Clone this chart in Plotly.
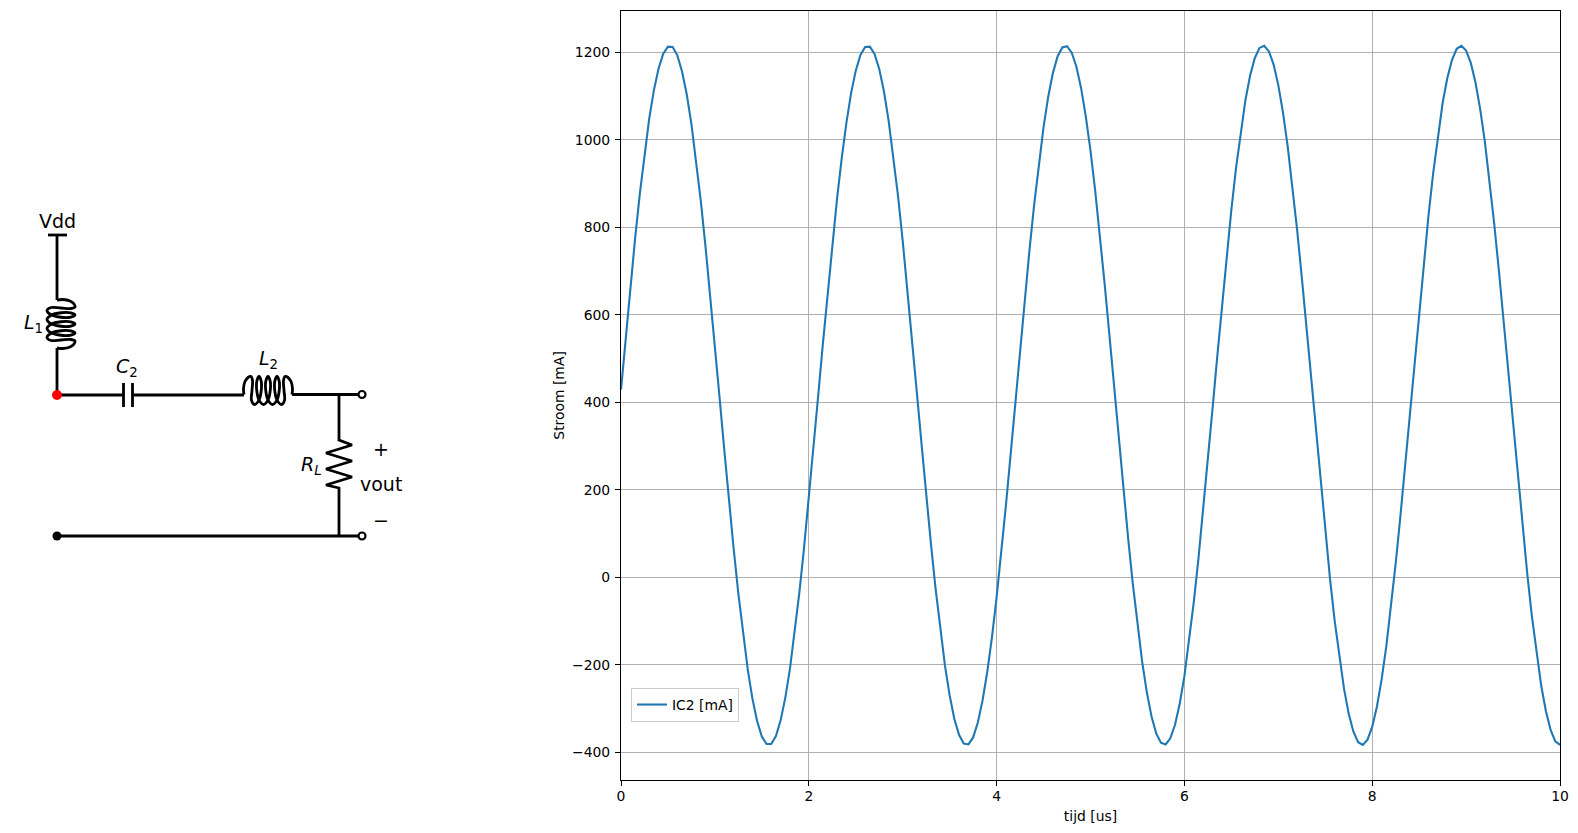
import plotly.graph_objects as go

W, H = 1578, 833

# ---- chart data ----
tijd_us = [
0.00,0.05,0.10,0.15,0.20,0.25,0.30,0.35,0.40,0.45,0.50,0.55,0.60,0.65,0.70,0.75,0.80,0.85,0.90,0.95,
1.00,1.05,1.10,1.15,1.20,1.25,1.30,1.35,1.40,1.45,1.50,1.55,1.60,1.65,1.70,1.75,1.80,1.85,1.90,1.95,
2.00,2.05,2.10,2.15,2.20,2.25,2.30,2.35,2.40,2.45,2.50,2.55,2.60,2.65,2.70,2.75,2.80,2.85,2.90,2.95,
3.00,3.05,3.10,3.15,3.20,3.25,3.30,3.35,3.40,3.45,3.50,3.55,3.60,3.65,3.70,3.75,3.80,3.85,3.90,3.95,
4.00,4.05,4.10,4.15,4.20,4.25,4.30,4.35,4.40,4.45,4.50,4.55,4.60,4.65,4.70,4.75,4.80,4.85,4.90,4.95,
5.00,5.05,5.10,5.15,5.20,5.25,5.30,5.35,5.40,5.45,5.50,5.55,5.60,5.65,5.70,5.75,5.80,5.85,5.90,5.95,
6.00,6.05,6.10,6.15,6.20,6.25,6.30,6.35,6.40,6.45,6.50,6.55,6.60,6.65,6.70,6.75,6.80,6.85,6.90,6.95,
7.00,7.05,7.10,7.15,7.20,7.25,7.30,7.35,7.40,7.45,7.50,7.55,7.60,7.65,7.70,7.75,7.80,7.85,7.90,7.95,
8.00,8.05,8.10,8.15,8.20,8.25,8.30,8.35,8.40,8.45,8.50,8.55,8.60,8.65,8.70,8.75,8.80,8.85,8.90,8.95,
9.00,9.05,9.10,9.15,9.20,9.25,9.30,9.35,9.40,9.45,9.50,9.55,9.60,9.65,9.70,9.75,9.80,9.85,9.90,9.95,
10.00]
ic2_ma = [
429,548,663,774,876,968,1048,1113,1163,1197,1213,1212,1193,1156,1104,1036,954,860,756,645,
529,410,291,175,65,-38,-130,-211,-278,-329,-364,-381,-381,-363,-327,-275,-208,-127,-34,69,
180,296,415,534,650,761,864,957,1038,1106,1158,1194,1212,1213,1196,1162,1111,1044,964,872,
769,659,543,424,306,189,78,-26,-120,-202,-270,-324,-360,-380,-382,-366,-332,-282,-217,-138,
-46,56,166,282,400,519,636,748,852,947,1029,1099,1153,1191,1211,1214,1199,1167,1118,1053,
975,883,782,672,557,439,320,203,91,-14,-109,-193,-263,-318,-357,-378,-382,-368,-337,-289,
-226,-147,-57,44,153,268,386,505,622,735,840,936,1020,1091,1147,1187,1210,1215,1202,1172,
1125,1062,985,895,795,686,571,453,334,217,104,-2,-99,-183,-255,-312,-353,-377,-383,-371,
-342,-296,-234,-158,-69,31,139,254,372,491,608,721,828,925,1011,1084,1141,1183,1208,1215,
1204,1176,1131,1070,995,907,807,699,585,467,348,231,117,11,-88,-174,-248,-306,-349,-375,
-383]
series_name = "IC2 [mA]"
x_title = "tijd [us]"
y_title = "Stroom [mA]"

# ---- schematic drawing (page-pixel coordinates of the left panel) ----
vdd_bar_x, vdd_bar_y = [48, 67], [235, 235]
stem_x, stem_y = [57, 57], [235, 300]
l1_down_x, l1_down_y = [57, 57], [348, 395]
wire_c_left_x, wire_c_left_y = [57, 123.5], [395, 395]
plate_a_x, plate_a_y = [123.5, 123.5], [383, 407]
plate_b_x, plate_b_y = [132.5, 132.5], [383, 407]
wire_c_right_x, wire_c_right_y = [132.5, 244], [395, 395]
wire_l2_right_x, wire_l2_right_y = [292, 362], [394.5, 394.5]
res_x = [339, 339, 352, 326, 352, 326, 352, 326, 339, 339]
res_y = [394, 440, 445, 453, 461, 469, 477, 485, 488, 536]
bottom_wire_x, bottom_wire_y = [57, 362], [536, 536]
coil_along = [0, -0.5, 1, 4, 7, 8.5, 8, 7.5, 10.5,
              14.8, 17.25, 17.06, 15, 12.94, 12.75, 15.2, 19.5,
              23.8, 26.25, 26.06, 24, 21.94, 21.75, 24.2, 28.5,
              32.8, 35.25, 35.06, 33, 30.94, 30.75, 33.2, 37.5,
              40.5, 40, 39.5, 41, 44, 47, 48.5, 48]
coil_across = [0, 6, 13, 17, 18, 14, 4, -5.9, -10,
               -5.9, 4, 13.9, 18, 13.9, 4, -5.9, -10,
               -5.9, 4, 13.9, 18, 13.9, 4, -5.9, -10,
               -5.9, 4, 13.9, 18, 13.9, 4, -5.9, -10,
               -5.9, 4, 14, 18, 17, 13, 6, 0]
l1_x = [57 + a for a in coil_across]
l1_y = [300 + a for a in coil_along]
l2_x = [244 + a for a in coil_along]
l2_y = [394.5 - a for a in coil_across]
labels = [
    ("Vdd", 57, 221), ("<i>L</i><sub>1</sub>", 33, 323), ("<i>C</i><sub>2</sub>", 127, 367),
    ("<i>L</i><sub>2</sub>", 268, 359), ("<i>R</i><sub><i>L</i></sub>", 311, 465),
    ("+", 381, 449), ("vout", 381, 484), ("\u2212", 381, 520),
]

# ---- layout geometry ----
left, right, top, bottom = 621.0, 1560.0, 10.5, 780.3
panel = 0.37

fig = go.Figure()
fig.add_trace(go.Scatter(x=tijd_us, y=ic2_ma, mode="lines", name=series_name,
                         line=dict(color="#1f77b4", width=2.08), xaxis="x", yaxis="y"))

black = dict(color="black", width=2.8)
for xs, ys in [(vdd_bar_x, vdd_bar_y), (stem_x, stem_y), (l1_down_x, l1_down_y),
               (wire_c_left_x, wire_c_left_y), (plate_a_x, plate_a_y), (plate_b_x, plate_b_y),
               (wire_c_right_x, wire_c_right_y), (wire_l2_right_x, wire_l2_right_y),
               (res_x, res_y), (bottom_wire_x, bottom_wire_y)]:
    fig.add_trace(go.Scatter(x=xs, y=ys, mode="lines", line=black, showlegend=False,
                             hoverinfo="skip", xaxis="x2", yaxis="y2"))
for xs, ys in [(l1_x, l1_y), (l2_x, l2_y)]:
    fig.add_trace(go.Scatter(x=xs, y=ys, mode="lines", showlegend=False, hoverinfo="skip",
                             line=dict(color="black", width=2.8, shape="spline", smoothing=1.0),
                             xaxis="x2", yaxis="y2"))
fig.add_trace(go.Scatter(x=[57], y=[536], mode="markers", showlegend=False, hoverinfo="skip",
                         marker=dict(color="black", size=9), xaxis="x2", yaxis="y2"))
fig.add_trace(go.Scatter(x=[57], y=[395], mode="markers", showlegend=False, hoverinfo="skip",
                         marker=dict(color="red", size=10), xaxis="x2", yaxis="y2"))
fig.add_trace(go.Scatter(x=[362, 362], y=[394.5, 536], mode="markers", showlegend=False, hoverinfo="skip",
                         marker=dict(color="white", size=7, line=dict(color="black", width=2.2)),
                         xaxis="x2", yaxis="y2"))

annotations = [dict(text=t, x=x, y=y, xref="x2", yref="y2", showarrow=False,
                    xanchor="center", yanchor="middle",
                    font=dict(family="DejaVu Sans", size=19, color="black"))
               for t, x, y in labels]

axis_common = dict(showline=True, linecolor="black", linewidth=1.1, mirror=True,
                   ticks="outside", ticklen=5, tickwidth=1.1, tickcolor="black",
                   showgrid=True, gridcolor="#b0b0b0", gridwidth=1.1, zeroline=False,
                   automargin=False,
                   tickfont=dict(family="DejaVu Sans", size=13.9, color="black"))

fig.update_layout(
    width=W, height=H, autosize=False,
    margin=dict(l=0, r=0, t=0, b=0, pad=0),
    paper_bgcolor="white", plot_bgcolor="white",
    font=dict(family="DejaVu Sans", size=13.9, color="black"),
    xaxis=dict(domain=[left / W, right / W], range=[0, 10], tick0=0, dtick=2, anchor="y",
               ticklabelstandoff=-2,
               title=dict(text=x_title, standoff=8, font=dict(size=13.9)), **axis_common),
    yaxis=dict(domain=[1 - bottom / H, 1 - top / H], range=[-464, 1295.5], tick0=0, dtick=200, anchor="x",
               ticklabelstandoff=2,
               title=dict(text=y_title, standoff=4, font=dict(size=13.9)), **axis_common),
    xaxis2=dict(domain=[0, panel], range=[0, panel * W], visible=False, anchor="y2", automargin=False),
    yaxis2=dict(domain=[0, 1], range=[H, 0], visible=False, anchor="x2", automargin=False),
    legend=dict(x=631 / W, y=(H - 722) / H, entrywidth=78, entrywidthmode="pixels",
                xanchor="left", yanchor="bottom", bgcolor="rgba(255,255,255,0.8)",
                bordercolor="#cccccc", borderwidth=1,
                font=dict(family="DejaVu Sans", size=13.9, color="black")),
    annotations=annotations,
    showlegend=True,
)

fig.write_html("out.html", config=dict(displayModeBar=False),
               post_script="document.body.style.margin='0';")
